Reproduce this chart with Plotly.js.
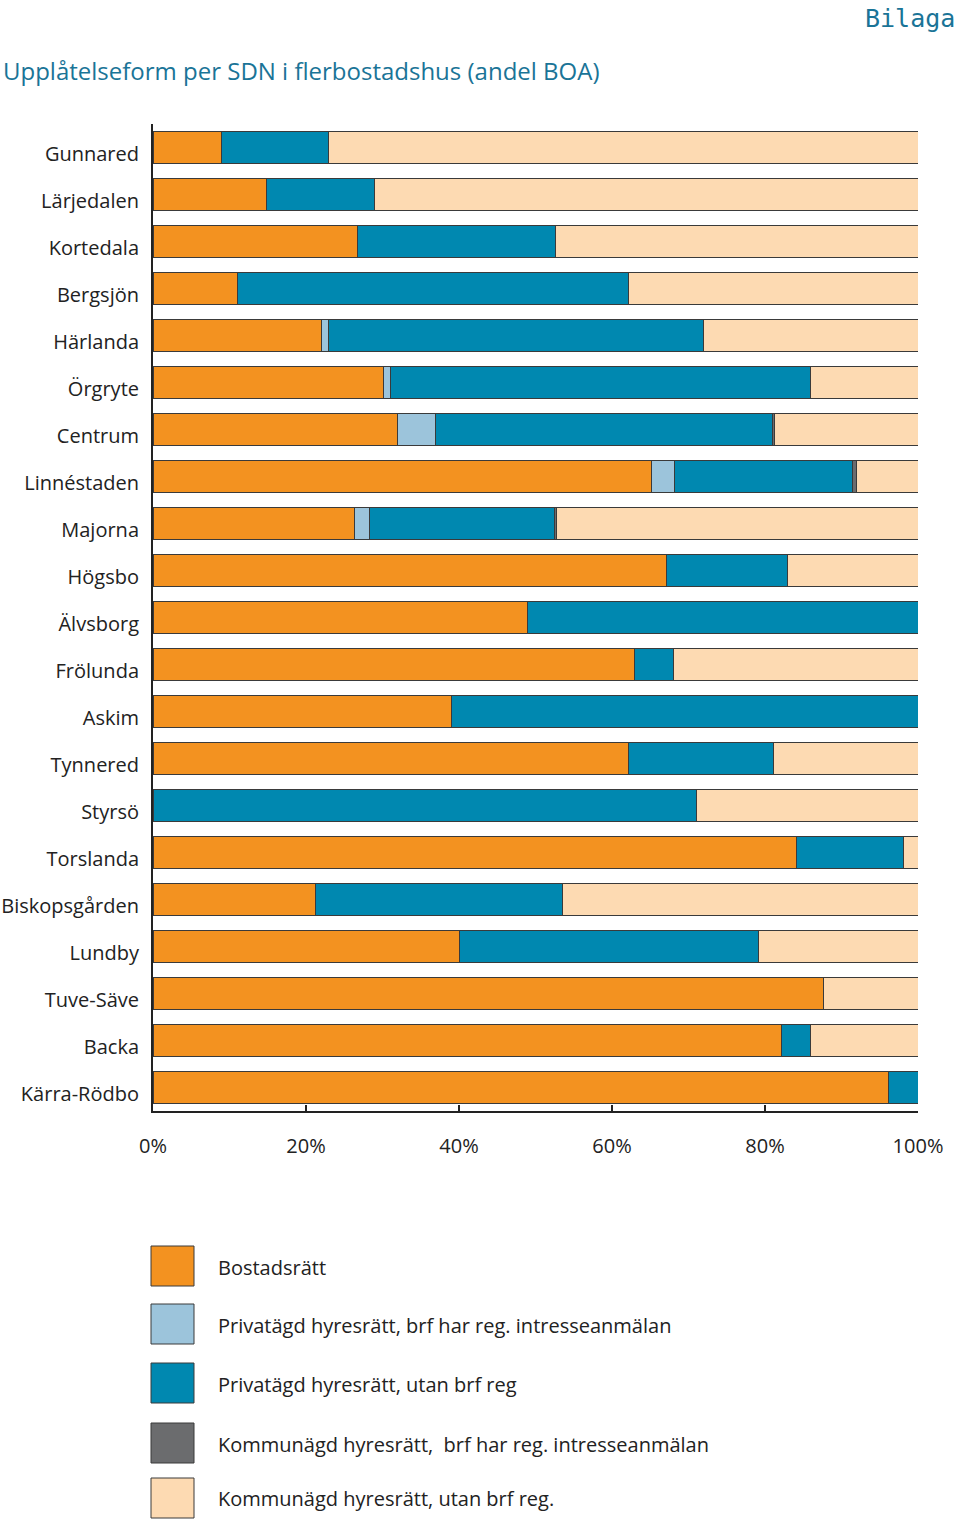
<!DOCTYPE html>
<html>
<head>
<meta charset="utf-8">
<script src="https://cdn.plot.ly/plotly-3.0.1.min.js"></script>
<style>html,body{margin:0;padding:0;background:#fff;}</style>
</head>
<body>
<div id="chart" style="width:960px;height:1522px;"></div>
<script>
const categories = ["Gunnared","Lärjedalen","Kortedala","Bergsjön","Härlanda","Örgryte","Centrum","Linnéstaden","Majorna","Högsbo","Älvsborg","Frölunda","Askim","Tynnered","Styrsö","Torslanda","Biskopsgården","Lundby","Tuve-Säve","Backa","Kärra-Rödbo"];
const seriesNames = ["Bostadsrätt","Privatägd hyresrätt, brf har reg. intresseanmälan","Privatägd hyresrätt, utan brf reg","Kommunägd hyresrätt,  brf har reg. intresseanmälan","Kommunägd hyresrätt, utan brf reg."];
const bostadsratt   = [8.9,14.9,26.7,11.0,22.0,30.1,31.9,65.1,26.3,67.1,49.0,63.0,39.0,62.1,0,84.1,21.2,40.0,87.7,82.1,96.1];
const privBrf       = [0,0,0,0,1.0,0.9,5.0,3.1,2.0,0,0,0,0,0,0,0,0,0,0,0,0];
const privUtan      = [14.1,14.1,25.9,51.1,49.0,55.0,44.1,23.3,24.2,15.9,51.0,5.1,61.0,19.0,71.0,14.0,32.3,39.1,0,3.9,3.9];
const kommBrf       = [0,0,0,0,0,0,0.3,0.4,0.2,0,0,0,0,0,0,0,0,0,0,0,0];
const kommUtan      = [77.0,71.0,47.4,37.9,28.0,14.0,18.7,8.1,47.3,17.0,0,31.9,0,18.9,29.0,1.9,46.5,20.9,12.3,14.0,0];
const tickVals = [0,20,40,60,80,100];
const tickText = ["0%","20%","40%","60%","80%","100%"];
const colors = ["#F39220","#9CC4DB","#0088B0","#6B6C6E","#FDDAB2"];
const seriesValues = [bostadsratt, privBrf, privUtan, kommBrf, kommUtan];

const font = "Frutiger, 'Open Sans', 'Noto Sans', sans-serif";
const traces = seriesValues.map((vals, i) => ({
  type: "bar",
  orientation: "h",
  name: seriesNames[i],
  y: categories,
  x: vals,
  marker: {color: colors[i], line: {color: "#3a3a3a", width: 1}},
  hoverinfo: "x+y+name"
}));

// plot area in pixels: x 153..918, y 124..1111
const PX0 = 153, PW = 765, PY1 = 1111, PH = 987;
const px = x => (x - PX0) / PW;
const py = y => (PY1 - y) / PH;

const shapes = [];
const annotations = [];
const legendRows = [1266, 1324, 1383, 1443, 1498];
seriesNames.forEach((n, i) => {
  const yc = legendRows[i];
  shapes.push({type: "rect", xref: "paper", yref: "paper",
    x0: px(151), x1: px(194), y0: py(yc + 20), y1: py(yc - 20),
    fillcolor: colors[i], line: {color: "#3a3a3a", width: 1}});
  annotations.push({xref: "paper", yref: "paper", x: px(216), y: py(yc + 1),
    xanchor: "left", yanchor: "middle", showarrow: false, text: n,
    font: {family: font, size: 20, color: "#222"}});
});
annotations.push({xref: "paper", yref: "paper", x: px(957), y: py(19),
  xanchor: "right", yanchor: "middle", showarrow: false, text: "Bilaga",
  font: {family: "'DejaVu Sans Mono', monospace", size: 25, color: "#1a7497"}});

const layout = {
  width: 960, height: 1522,
  margin: {l: 153, r: 42, t: 124, b: 411},
  paper_bgcolor: "#fff", plot_bgcolor: "#fff",
  barmode: "stack", bargap: 0.3,
  showlegend: false,
  title: {text: "Upplåtelseform per SDN i flerbostadshus (andel BOA)",
    xref: "container", yref: "container", x: 3 / 960, xanchor: "left",
    y: 1 - 72 / 1522, yanchor: "middle",
    font: {family: font, size: 24, color: "#1a7497"}},
  xaxis: {range: [0, 100], tickvals: tickVals, ticktext: tickText,
    showgrid: false, zeroline: false, showline: true, linecolor: "#222", linewidth: 2,
    ticks: "inside", ticklen: 6, tickcolor: "#222", tickwidth: 1.5,
    ticklabelstandoff: 16,
    tickfont: {family: font, size: 20, color: "#222"}, fixedrange: true},
  yaxis: {type: "category", categoryorder: "array", categoryarray: categories,
    autorange: "reversed", showgrid: false, zeroline: false,
    showline: true, linecolor: "#222", linewidth: 2, ticks: "",
    ticklabelstandoff: 8, ticklabelshift: -6,
    tickfont: {family: font, size: 20, color: "#222"}, fixedrange: true},
  shapes: shapes,
  annotations: annotations
};

Plotly.newPlot("chart", traces, layout, {displayModeBar: false, staticPlot: true});
</script>
</body>
</html>
